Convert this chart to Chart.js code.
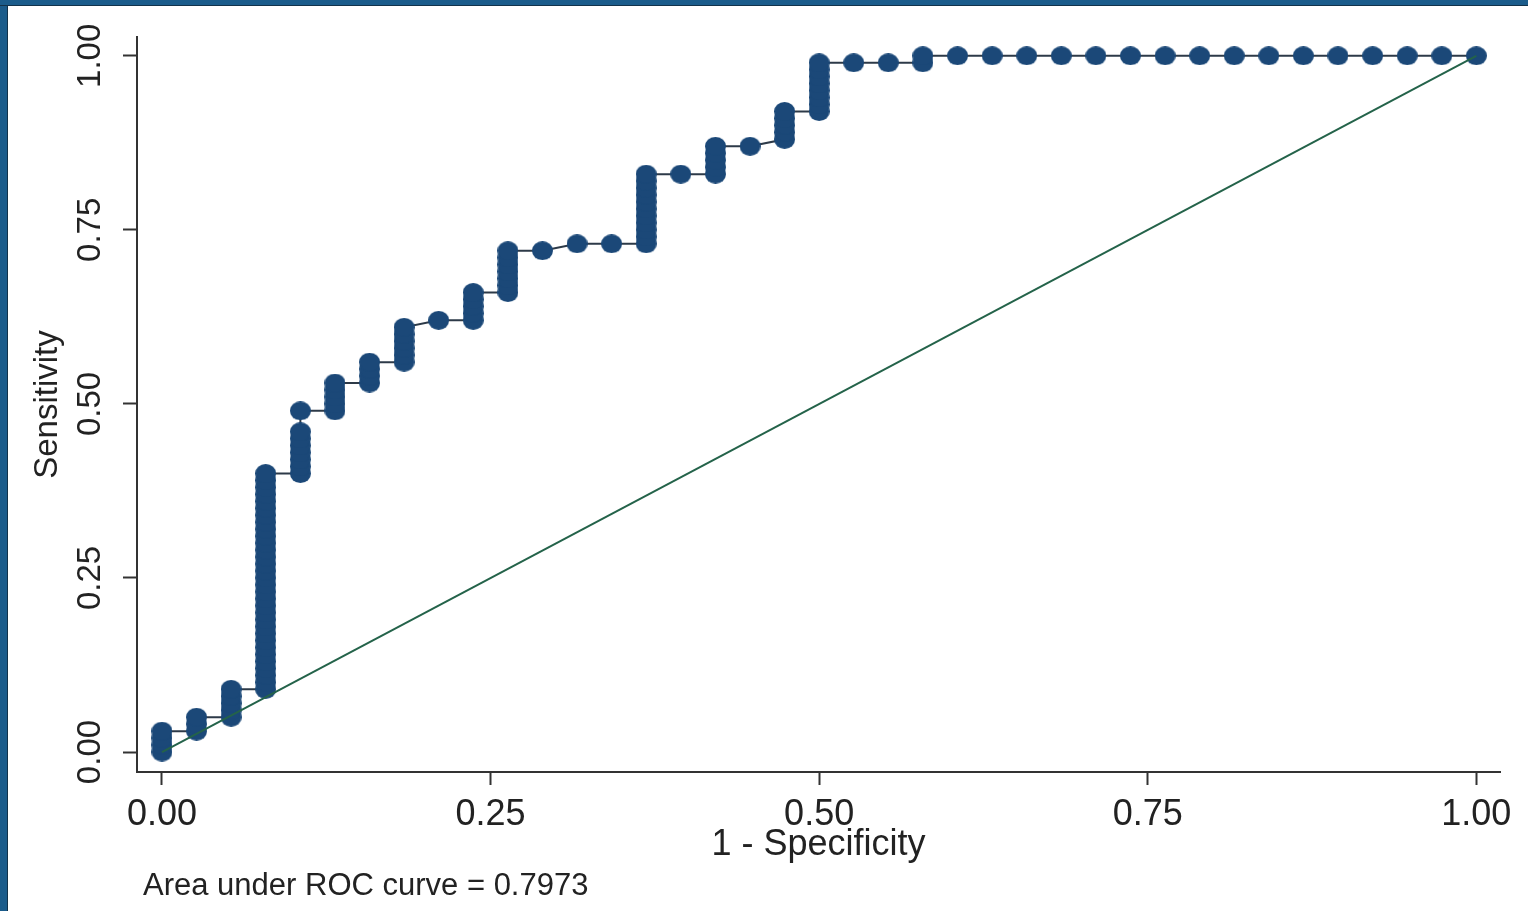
<!DOCTYPE html>
<html>
<head>
<meta charset="utf-8">
<title>ROC curve</title>
<script src="https://cdn.jsdelivr.net/npm/chart.js@4.4.1/dist/chart.umd.min.js"></script>
<style>
  html, body { margin: 0; padding: 0; background: #fff; }
  #wrap { position: relative; width: 1528px; height: 911px; overflow: hidden; }
  #roc { position: absolute; left: 0; top: 0; }
  .frame { position: absolute; background: #1b5c8b; }
  #frameLeft { left: 0; top: 0; width: 7px; height: 911px; border-right: 1px solid #12324a; }
  #frameTop { left: 0; top: 0; width: 1528px; height: 5px; border-bottom: 1px solid #12324a; }
</style>
</head>
<body>
<div id="wrap">
  <canvas id="roc" width="1528" height="911"></canvas>
  <div class="frame" id="frameLeft"></div>
  <div class="frame" id="frameTop"></div>
</div>
<script>
// 1 - specificity at each step (38 negatives)
const fprSteps = [
    0, 0.0263, 0.0526, 0.0789, 0.1053, 0.1316, 0.1579, 0.1842, 0.2105, 0.2368,
    0.2632, 0.2895, 0.3158, 0.3421, 0.3684, 0.3947, 0.4211, 0.4474, 0.4737, 0.5,
    0.5263, 0.5526, 0.5789, 0.6053, 0.6316, 0.6579, 0.6842, 0.7105, 0.7368, 0.7632,
    0.7895, 0.8158, 0.8421, 0.8684, 0.8947, 0.9211, 0.9474, 0.9737, 1
];

// sensitivity of every cutoff point, grouped by step
const sensSteps = [
    [0.00, 0.01, 0.02, 0.03],
    [0.03, 0.04, 0.05],
    [0.05, 0.06, 0.07, 0.08, 0.09],
    [0.09, 0.10, 0.11, 0.12, 0.13, 0.14, 0.15, 0.16, 0.17, 0.18, 0.19, 0.20, 0.21, 0.22, 0.23, 0.24,
     0.25, 0.26, 0.27, 0.28, 0.29, 0.30, 0.31, 0.32, 0.33, 0.34, 0.35, 0.36, 0.37, 0.38, 0.39, 0.40],
    [0.40, 0.41, 0.42, 0.43, 0.44, 0.45, 0.46, 0.49],
    [0.49, 0.50, 0.51, 0.52, 0.53],
    [0.53, 0.54, 0.55, 0.56],
    [0.56, 0.57, 0.58, 0.59, 0.60, 0.61],
    [0.62],
    [0.62, 0.63, 0.64, 0.65, 0.66],
    [0.66, 0.67, 0.68, 0.69, 0.70, 0.71, 0.72],
    [0.72],
    [0.73],
    [0.73],
    [0.73, 0.74, 0.75, 0.76, 0.77, 0.78, 0.79, 0.80, 0.81, 0.82, 0.83],
    [0.83],
    [0.83, 0.84, 0.85, 0.86, 0.87],
    [0.87],
    [0.88, 0.89, 0.90, 0.91, 0.92],
    [0.92, 0.93, 0.94, 0.95, 0.96, 0.97, 0.98, 0.99],
    [0.99],
    [0.99],
    [0.99, 1.00],
    [1.00], [1.00], [1.00], [1.00], [1.00], [1.00], [1.00], [1.00],
    [1.00], [1.00], [1.00], [1.00], [1.00], [1.00], [1.00], [1.00]
];

const chanceX = [0, 1];
const chanceY = [0, 1];
const axisTicks = [0, 0.25, 0.5, 0.75, 1];
const aucNote = 'Area under ROC curve = 0.7973';

const rocPoints = [];
fprSteps.forEach((fpr, i) => {
    sensSteps[i].forEach(s => rocPoints.push({ x: fpr, y: s }));
});
const chancePoints = chanceX.map((x, i) => ({ x: x, y: chanceY[i] }));

const textFont = 'Liberation Sans, Arial, sans-serif';
const markerColor = '#1b4878';

// Stata's filled circles come out a bit wider than tall in this picture
const marker = document.createElement('canvas');
marker.width = 21;
marker.height = 19;
const mctx = marker.getContext('2d');
mctx.fillStyle = markerColor;
mctx.beginPath();
mctx.ellipse(10.5, 9.5, 10.5, 9.5, 0, 0, Math.PI * 2);
mctx.fill();

const notePlugin = {
    id: 'aucNote',
    afterDraw(chart) {
        const ctx = chart.ctx;
        ctx.save();
        ctx.font = '31px ' + textFont;
        ctx.fillStyle = '#222';
        ctx.textBaseline = 'middle';
        ctx.fillText(aucNote, chart.chartArea.left + 6, chart.scales.x.bottom + 19);
        ctx.restore();
    }
};

new Chart(document.getElementById('roc'), {
    type: 'scatter',
    data: {
        datasets: [
            {
                label: 'Reference',
                data: chancePoints,
                showLine: true,
                borderColor: '#24634a',
                borderWidth: 2,
                pointRadius: 0,
                order: 0
            },
            {
                label: 'ROC',
                data: rocPoints,
                showLine: true,
                borderColor: '#2d3a48',
                borderWidth: 2,
                pointStyle: marker,
                pointRadius: 10,
                pointBackgroundColor: markerColor,
                pointBorderColor: markerColor,
                clip: false,
                order: 1
            }
        ]
    },
    options: {
        responsive: false,
        animation: false,
        layout: { padding: { left: 9, top: 37, right: 28, bottom: 44 } },
        plugins: {
            legend: { display: false },
            tooltip: { enabled: false }
        },
        scales: {
            x: {
                type: 'linear',
                min: -0.019,
                max: 1.018,
                afterBuildTicks: s => { s.ticks = axisTicks.map(v => ({ value: v })); },
                afterFit: s => { s.height = 95; },
                ticks: {
                    callback: v => v.toFixed(2),
                    font: { family: textFont, size: 36 },
                    color: '#222',
                    padding: 8,
                    maxRotation: 0
                },
                grid: { drawOnChartArea: false, tickLength: 13, tickWidth: 2, tickColor: '#333' },
                border: { display: true, color: '#333', width: 2 },
                title: {
                    display: true,
                    text: '1 - Specificity',
                    font: { family: textFont, size: 36 },
                    color: '#222',
                    padding: { top: 0, bottom: 0 }
                }
            },
            y: {
                type: 'linear',
                min: -0.0287,
                max: 1.027,
                afterBuildTicks: s => { s.ticks = axisTicks.map(v => ({ value: v })); },
                afterFit: s => { s.width = 128; },
                ticks: {
                    callback: v => v.toFixed(2),
                    font: { family: textFont, size: 33 },
                    color: '#222',
                    padding: 0,
                    minRotation: 90,
                    maxRotation: 90,
                    crossAlign: 'center'
                },
                grid: { drawOnChartArea: false, tickLength: 14, tickWidth: 2, tickColor: '#333' },
                border: { display: true, color: '#333', width: 2 },
                title: {
                    display: true,
                    text: 'Sensitivity',
                    font: { family: textFont, size: 33 },
                    color: '#222',
                    padding: { top: 19, bottom: 0 }
                }
            }
        }
    },
    plugins: [notePlugin]
});
</script>
</body>
</html>
